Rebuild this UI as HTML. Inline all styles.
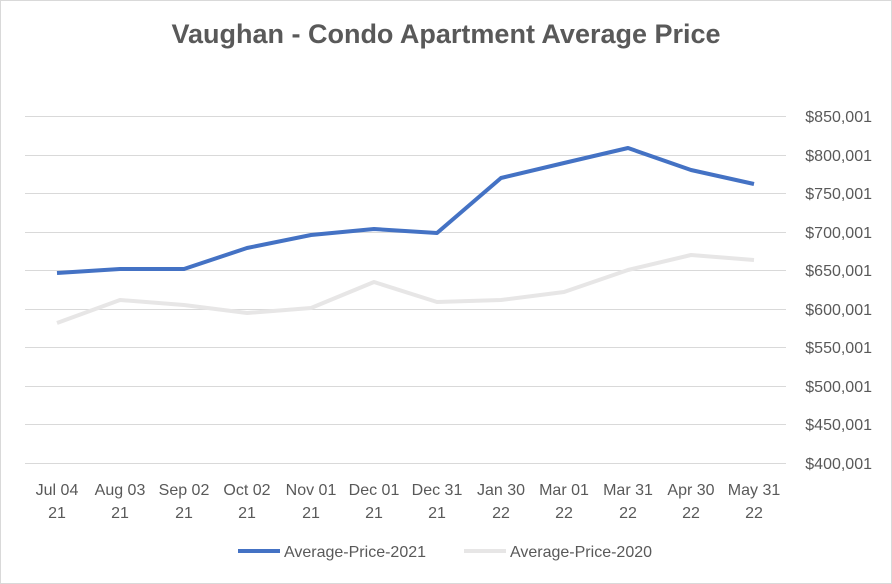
<!DOCTYPE html>
<html><head><meta charset="utf-8"><style>
body{margin:0;background:#fff}
svg{display:block;font-family:"Liberation Sans",sans-serif}
</style></head><body>
<svg width="892" height="584" viewBox="0 0 892 584">
<rect x="0.5" y="0.5" width="891" height="583" fill="#fff" stroke="#d9d9d9"/>
<text x="446" y="43" text-anchor="middle" font-size="27" font-weight="bold" fill="#595959">Vaughan - Condo Apartment Average Price</text>
<g stroke="#d9d9d9" stroke-width="1">
<line x1="25" x2="786" y1="116.5" y2="116.5"/><line x1="25" x2="786" y1="155.5" y2="155.5"/>
<line x1="25" x2="786" y1="193.5" y2="193.5"/><line x1="25" x2="786" y1="232.5" y2="232.5"/>
<line x1="25" x2="786" y1="270.5" y2="270.5"/><line x1="25" x2="786" y1="309.5" y2="309.5"/>
<line x1="25" x2="786" y1="347.5" y2="347.5"/><line x1="25" x2="786" y1="386.5" y2="386.5"/>
<line x1="25" x2="786" y1="424.5" y2="424.5"/><line x1="25" x2="786" y1="463.5" y2="463.5"/>
</g>
<g font-size="16" fill="#595959" text-anchor="end">
<text x="872" y="122">$850,001</text><text x="872" y="161">$800,001</text>
<text x="872" y="199">$750,001</text><text x="872" y="238">$700,001</text>
<text x="872" y="276">$650,001</text><text x="872" y="315">$600,001</text>
<text x="872" y="353">$550,001</text><text x="872" y="392">$500,001</text>
<text x="872" y="430">$450,001</text><text x="872" y="469">$400,001</text>
</g>
<g font-size="16" fill="#595959" text-anchor="middle">
<text x="57" y="495">Jul 04</text><text x="57" y="518">21</text>
<text x="120" y="495">Aug 03</text><text x="120" y="518">21</text>
<text x="184" y="495">Sep 02</text><text x="184" y="518">21</text>
<text x="247" y="495">Oct 02</text><text x="247" y="518">21</text>
<text x="311" y="495">Nov 01</text><text x="311" y="518">21</text>
<text x="374" y="495">Dec 01</text><text x="374" y="518">21</text>
<text x="437" y="495">Dec 31</text><text x="437" y="518">21</text>
<text x="501" y="495">Jan 30</text><text x="501" y="518">22</text>
<text x="564" y="495">Mar 01</text><text x="564" y="518">22</text>
<text x="628" y="495">Mar 31</text><text x="628" y="518">22</text>
<text x="691" y="495">Apr 30</text><text x="691" y="518">22</text>
<text x="754" y="495">May 31</text><text x="754" y="518">22</text>
</g>
<polyline fill="none" stroke="#e7e6e6" stroke-width="4" stroke-linejoin="round" points="57,323 120,300 184,305 247,313 311,308 374,282 437,302 501,300 564,292 628,270 691,255 754,260"/>
<polyline fill="none" stroke="#4472c4" stroke-width="4" stroke-linejoin="round" points="57,273 120,269 184,269 247,248 311,235 374,229 437,233 501,178 564,163 628,148 691,170 754,184"/>
<line x1="238" x2="280" y1="551" y2="551" stroke="#4472c4" stroke-width="4"/>
<text x="284" y="557" font-size="16" fill="#595959">Average-Price-2021</text>
<line x1="464" x2="506" y1="551" y2="551" stroke="#e7e6e6" stroke-width="4"/>
<text x="510" y="557" font-size="16" fill="#595959">Average-Price-2020</text>
</svg>
</body></html>
